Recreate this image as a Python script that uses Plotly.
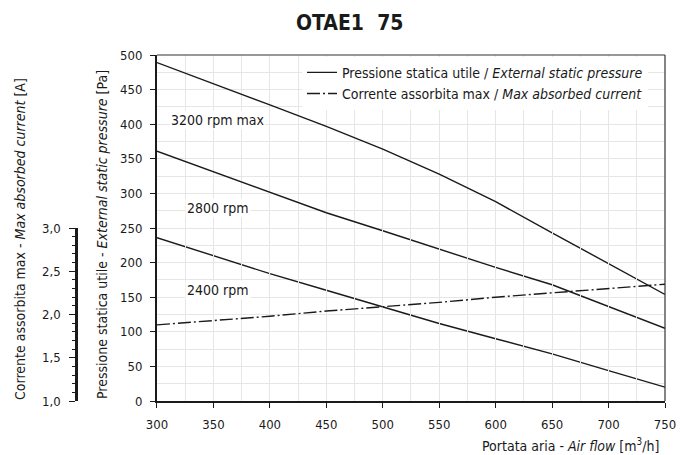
import plotly.graph_objects as go

# ---------------- data ----------------
flow = [300, 350, 400, 450, 500, 550, 600, 650, 700, 750]
p3200 = [489, 459, 428, 397, 364, 328, 288, 243, 198, 154]
p2800 = [361, 331, 301, 272, 246, 219, 193, 168, 137, 105]
p2400 = [236, 210, 184, 160, 136, 112, 90, 68, 44, 20]
current = [1.88, 1.93, 1.98, 2.04, 2.09, 2.14, 2.20, 2.25, 2.30, 2.35]

curve_names = ["3200 rpm max", "2800 rpm", "2400 rpm"]
curve_label_x = [354, 354, 354]
curve_label_y = [406, 279, 160]

title = "OTAE1  75"
legend_pressure = "Pressione statica utile / <i>External static pressure</i>"
legend_current = "Corrente assorbita max / <i>Max absorbed current</i>"
xtitle = "Portata aria - <i>Air flow</i> [m<sup>3</sup>/h]"
ytitle = "Pressione statica utile - <i>External static pressure</i> [Pa]"
y2title = "Corrente assorbita max - <i>Max absorbed current</i> [A]"

FONT = "DejaVu Sans Condensed, Liberation Sans Narrow, sans-serif"
INK = "#1a1a1a"
GRID = "#e6e6e6"
XDOM = [0.2244, 1]

fig = go.Figure()
for i, p in enumerate([p3200, p2800, p2400]):
    fig.add_trace(go.Scatter(
        x=flow, y=p, mode="lines", name=legend_pressure,
        line=dict(color=INK, width=1.4),
        showlegend=(i == 0), legendgroup="p", hoverinfo="x+y"))
fig.add_trace(go.Scatter(
    x=flow, y=current, mode="lines", name=legend_current, yaxis="y2",
    line=dict(color=INK, width=1.4, dash="13px,3px,2px,3px")))

annotations = []
for name, lx, ly in zip(curve_names, curve_label_x, curve_label_y):
    annotations.append(dict(x=lx, y=ly, xref="x", yref="y", text=name, showarrow=False,
                            font=dict(size=14, color=INK, family=FONT), bgcolor="white",
                            borderpad=1))
annotations += [
    dict(x=(349 - 10) / 655, y=(401 - 22.5) / 346, xref="paper", yref="paper",
         text="<b>" + title + "</b>", showarrow=False, xanchor="center", yanchor="middle",
         font=dict(size=21, color=INK, family=FONT)),
    dict(x=(661 - 10) / 655, y=(401 - 445) / 346, xref="paper", yref="paper", text=xtitle,
         xanchor="right", yanchor="middle", showarrow=False,
         font=dict(size=14, color=INK, family=FONT)),
    dict(x=(102 - 10) / 655, y=(401 - 235) / 346, xref="paper", yref="paper", text=ytitle,
         textangle=-90, showarrow=False, xanchor="center", yanchor="middle",
         font=dict(size=14, color=INK, family=FONT)),
    dict(x=(20 - 10) / 655, y=(401 - 239) / 346, xref="paper", yref="paper", text=y2title,
         textangle=-90, showarrow=False, xanchor="center", yanchor="middle",
         font=dict(size=14, color=INK, family=FONT)),
]

common_marks = dict(showgrid=False, zeroline=False, showticklabels=False, showline=False,
                    tickcolor=INK, ticklen=4, automargin=False)

fig.update_layout(
    template="none",
    width=694, height=455,
    margin=dict(l=10, r=29, t=55, b=54, autoexpand=False),
    paper_bgcolor="white", plot_bgcolor="rgba(0,0,0,0)",
    separators=",.",
    font=dict(family=FONT, size=13, color=INK),
    showlegend=True,
    xaxis=dict(domain=XDOM, range=[300, 750], dtick=50, tick0=300, automargin=False,
               showline=True, linecolor=INK, linewidth=2, ticks="outside", ticklen=5,
               tickcolor=INK, showgrid=True, gridcolor=GRID, gridwidth=1, zeroline=False,
               ticklabelstandoff=5,
               tickfont=dict(size=13),
               minor=dict(dtick=25, showgrid=True, gridcolor=GRID)),
    yaxis=dict(range=[0, 500], dtick=50, showline=True, linecolor=INK, linewidth=2,
               automargin=False,
               ticks="outside", ticklen=5, tickcolor=INK, showgrid=True, gridcolor=GRID,
               zeroline=False, ticklabelstandoff=5, tickfont=dict(size=13),
               minor=dict(dtick=25, showgrid=True, gridcolor=GRID)),
    yaxis2=dict(domain=[0, 0.5], range=[1, 3], dtick=0.5, tickformat=".1f",
                anchor="free", position=(76 - 10) / 655, showline=True, linecolor=INK,
                linewidth=2.5, automargin=False,
                ticks="outside", ticklen=6, tickcolor=INK, showgrid=False, zeroline=False,
                ticklabelstandoff=6, tickfont=dict(size=13),
                minor=dict(dtick=0.1, ticks="outside", ticklen=3, tickcolor=INK)),
    # small marks where the curves meet the frame
    yaxis3=dict(overlaying="y", anchor="x", side="right", range=[0, 500], ticks="outside",
                tickvals=[p3200[-1], p2800[-1], p2400[-1]], **common_marks),
    yaxis4=dict(overlaying="y2", anchor="x", side="right", range=[1, 3], ticks="outside",
                tickvals=[current[-1]], **common_marks),
    yaxis5=dict(overlaying="y", anchor="x", side="left", range=[0, 500], ticks="inside",
                tickvals=[p3200[0], p2800[0], p2400[0]], **common_marks),
    yaxis6=dict(overlaying="y2", anchor="x", side="left", range=[1, 3], ticks="inside",
                tickvals=[current[0]], **common_marks),
    legend=dict(x=(648 - 10) / 655, y=0.995, xanchor="right", yanchor="top",
                bgcolor="white", font=dict(size=14, family=FONT, color=INK),
                tracegroupgap=0, borderwidth=0),
    shapes=[
        dict(type="line", xref="paper", yref="paper", x0=XDOM[0], x1=1, y0=1, y1=1,
             line=dict(color="#333", width=1.2)),
        dict(type="line", xref="paper", yref="paper", x0=1, x1=1, y0=0, y1=1,
             line=dict(color="#333", width=1.2)),
    ],
    annotations=annotations,
)

fig.write_html("out.html")
